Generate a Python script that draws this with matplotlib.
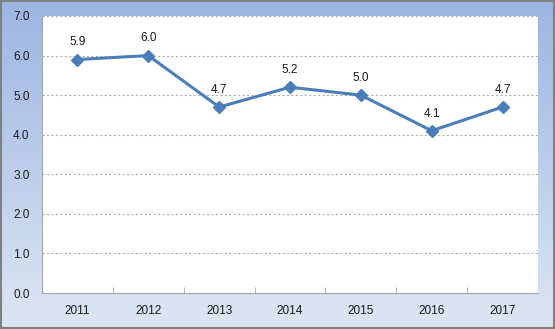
import numpy as np
import matplotlib.pyplot as plt
from matplotlib.colors import LinearSegmentedColormap

years = ["2011", "2012", "2013", "2014", "2015", "2016", "2017"]
values = [5.9, 6.0, 4.7, 5.2, 5.0, 4.1, 4.7]
yticks = [0.0, 1.0, 2.0, 3.0, 4.0, 5.0, 6.0, 7.0]

plt.rcParams['font.family'] = ['Liberation Sans', 'DejaVu Sans']

W, H = 555, 329
fig = plt.figure(figsize=(W / 100, H / 100), dpi=100)

# blue gradient frame behind the plot
bg = fig.add_axes([0, 0, 1, 1], zorder=0)
grad = np.linspace(0, 1, 256).reshape(-1, 1)
cmap = LinearSegmentedColormap.from_list("frame", ["#9bb5e3", "#dde6f3"])
bg.imshow(grad, aspect="auto", cmap=cmap, extent=[0, 1, 0, 1], origin="upper")
bg.set_xlim(0, 1)
bg.set_ylim(0, 1)
bg.axis("off")
bg.add_patch(plt.Rectangle((0.001, 0.002), 0.997, 0.995, fill=False,
                           edgecolor="#808080", linewidth=1.5,
                           transform=bg.transAxes))

ax = fig.add_axes([42 / W, 1 - 293 / H, 496 / W, 277 / H], zorder=1)
ax.set_facecolor("white")

x = np.arange(len(years))
ax.plot(x, values, color="#4a7ebb", linewidth=2.2, marker="D", markersize=6,
        markerfacecolor="#4a7ebb", markeredgecolor="#4a7ebb", zorder=3)
for xi, v in zip(x, values):
    ax.annotate(f"{v:.1f}", (xi, v), xytext=(0, 8), textcoords="offset points",
                ha="center", va="bottom", fontsize=8.5, color="#1a1a1a")

ax.set_xlim(-0.5, len(years) - 0.5)
ax.set_ylim(0, 7)
ax.set_yticks(yticks)
ax.set_yticklabels([f"{t:.1f}" for t in yticks])
ax.set_xticks(x)
ax.set_xticklabels(years)
ax.set_xticks(np.arange(0.5, len(years) - 0.5, 1), minor=True)

ax.yaxis.grid(True, linestyle=(0, (2, 2)), color="#b0b0b0", linewidth=0.8)
ax.set_axisbelow(True)

ax.tick_params(axis="both", which="major", length=0, labelsize=8.5,
               colors="#1a1a1a")
ax.tick_params(axis="x", which="major", pad=9)
ax.tick_params(axis="y", which="major", pad=9)
ax.tick_params(axis="x", which="minor", length=4, direction="in",
               color="#a6a6a6")

for side in ["top", "right"]:
    ax.spines[side].set_visible(False)
ax.spines["left"].set_color("#a6a6a6")
ax.spines["bottom"].set_color("#a6a6a6")
ax.spines["left"].set_linewidth(0.8)
ax.spines["bottom"].set_linewidth(0.8)

fig.savefig("out.png", dpi=100)
